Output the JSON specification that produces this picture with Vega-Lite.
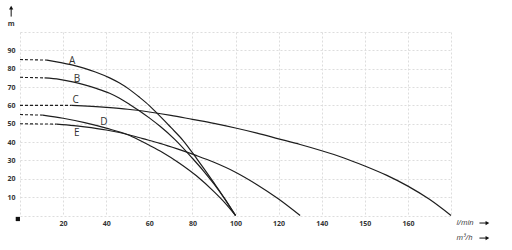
{
  "$schema": "https://vega.github.io/schema/vega-lite/v6.json",
  "width": 431,
  "height": 183.5,
  "autosize": {"type": "none"},
  "padding": {"left": 20, "top": 32, "right": 61, "bottom": 34.5},
  "background": "white",
  "config": {"view": {"stroke": null}, "axis": {"labelOverlap": false}},
  "datasets": {
    "curves": [
      {"c": "A", "s": "d", "x": 0, "y": 85}, {"c": "A", "s": "d", "x": 12.5, "y": 84.7},
      {"c": "A", "s": "s", "x": 12.5, "y": 84.7}, {"c": "A", "s": "s", "x": 18.3, "y": 83.4}, {"c": "A", "s": "s", "x": 25, "y": 81.8}, {"c": "A", "s": "s", "x": 30, "y": 80.2}, {"c": "A", "s": "s", "x": 35, "y": 78.2}, {"c": "A", "s": "s", "x": 41.6, "y": 75}, {"c": "A", "s": "s", "x": 46, "y": 72.3}, {"c": "A", "s": "s", "x": 50.9, "y": 68.6}, {"c": "A", "s": "s", "x": 55.5, "y": 64.4}, {"c": "A", "s": "s", "x": 60, "y": 59.9}, {"c": "A", "s": "s", "x": 63.2, "y": 56.2}, {"c": "A", "s": "s", "x": 67, "y": 51.7}, {"c": "A", "s": "s", "x": 70, "y": 48}, {"c": "A", "s": "s", "x": 75.6, "y": 41}, {"c": "A", "s": "s", "x": 82, "y": 31}, {"c": "A", "s": "s", "x": 90, "y": 17.8}, {"c": "A", "s": "s", "x": 95, "y": 9.2}, {"c": "A", "s": "s", "x": 100, "y": 0},
      {"c": "B", "s": "d", "x": 0, "y": 75.3}, {"c": "B", "s": "d", "x": 11.4, "y": 75},
      {"c": "B", "s": "s", "x": 11.4, "y": 75}, {"c": "B", "s": "s", "x": 18.3, "y": 74.2}, {"c": "B", "s": "s", "x": 25, "y": 72.7}, {"c": "B", "s": "s", "x": 30, "y": 71.2}, {"c": "B", "s": "s", "x": 35, "y": 69.4}, {"c": "B", "s": "s", "x": 41.6, "y": 66.6}, {"c": "B", "s": "s", "x": 46, "y": 64}, {"c": "B", "s": "s", "x": 50.9, "y": 60.5}, {"c": "B", "s": "s", "x": 55.5, "y": 57}, {"c": "B", "s": "s", "x": 60, "y": 53.2}, {"c": "B", "s": "s", "x": 65, "y": 48.6}, {"c": "B", "s": "s", "x": 71.8, "y": 41.5}, {"c": "B", "s": "s", "x": 80, "y": 31.2}, {"c": "B", "s": "s", "x": 85, "y": 24.5}, {"c": "B", "s": "s", "x": 90, "y": 17.2}, {"c": "B", "s": "s", "x": 95, "y": 9}, {"c": "B", "s": "s", "x": 100, "y": 0},
      {"c": "C", "s": "d", "x": 0, "y": 60}, {"c": "C", "s": "d", "x": 24, "y": 60},
      {"c": "C", "s": "s", "x": 24, "y": 60}, {"c": "C", "s": "s", "x": 40, "y": 58.9}, {"c": "C", "s": "s", "x": 50, "y": 57.9}, {"c": "C", "s": "s", "x": 60, "y": 56.4}, {"c": "C", "s": "s", "x": 70, "y": 54.6}, {"c": "C", "s": "s", "x": 80, "y": 52.4}, {"c": "C", "s": "s", "x": 90, "y": 50.2}, {"c": "C", "s": "s", "x": 100, "y": 47.7}, {"c": "C", "s": "s", "x": 110, "y": 44.9}, {"c": "C", "s": "s", "x": 120, "y": 41.8}, {"c": "C", "s": "s", "x": 130, "y": 38.7}, {"c": "C", "s": "s", "x": 140, "y": 35.3}, {"c": "C", "s": "s", "x": 150, "y": 31.5}, {"c": "C", "s": "s", "x": 160, "y": 27}, {"c": "C", "s": "s", "x": 170, "y": 22}, {"c": "C", "s": "s", "x": 180, "y": 16}, {"c": "C", "s": "s", "x": 190, "y": 8.8}, {"c": "C", "s": "s", "x": 200, "y": 0},
      {"c": "D", "s": "d", "x": 0, "y": 55}, {"c": "D", "s": "d", "x": 10.5, "y": 54.7},
      {"c": "D", "s": "s", "x": 10.5, "y": 54.7}, {"c": "D", "s": "s", "x": 20, "y": 53}, {"c": "D", "s": "s", "x": 30, "y": 50.6}, {"c": "D", "s": "s", "x": 40, "y": 47.6}, {"c": "D", "s": "s", "x": 50, "y": 44}, {"c": "D", "s": "s", "x": 55, "y": 41.3}, {"c": "D", "s": "s", "x": 60, "y": 38.3}, {"c": "D", "s": "s", "x": 66, "y": 34.5}, {"c": "D", "s": "s", "x": 74, "y": 28.5}, {"c": "D", "s": "s", "x": 82, "y": 21.5}, {"c": "D", "s": "s", "x": 90, "y": 13}, {"c": "D", "s": "s", "x": 95, "y": 7}, {"c": "D", "s": "s", "x": 100, "y": 0},
      {"c": "E", "s": "d", "x": 0, "y": 50}, {"c": "E", "s": "d", "x": 17, "y": 49.8},
      {"c": "E", "s": "s", "x": 17, "y": 49.8}, {"c": "E", "s": "s", "x": 25, "y": 49}, {"c": "E", "s": "s", "x": 30, "y": 48.3}, {"c": "E", "s": "s", "x": 40, "y": 46.6}, {"c": "E", "s": "s", "x": 49.5, "y": 44.3}, {"c": "E", "s": "s", "x": 57, "y": 41.9}, {"c": "E", "s": "s", "x": 65, "y": 39.3}, {"c": "E", "s": "s", "x": 73, "y": 36.3}, {"c": "E", "s": "s", "x": 82, "y": 32.6}, {"c": "E", "s": "s", "x": 90, "y": 29}, {"c": "E", "s": "s", "x": 100, "y": 23.6}, {"c": "E", "s": "s", "x": 110, "y": 16.8}, {"c": "E", "s": "s", "x": 120, "y": 9}, {"c": "E", "s": "s", "x": 130, "y": 0}
    ],
    "labels": [
      {"t": "A", "x": 24.2, "y": 84.2},
      {"t": "B", "x": 26.4, "y": 74.2},
      {"t": "C", "x": 25.8, "y": 62.9},
      {"t": "D", "x": 38.9, "y": 51.1},
      {"t": "E", "x": 26.4, "y": 45.1}
    ],
    "units": [
      {"t": "l/min", "x": 202.5, "y": -4.1},
      {"t": "m³/h", "x": 202.5, "y": -12.3}
    ],
    "shafts": [
      {"x": 213.2, "x2": 216.5, "y": -4.1, "y2": -4.1},
      {"x": 213.2, "x2": 216.5, "y": -12.3, "y2": -12.3},
      {"x": -4.1, "x2": -4.1, "y": 108.4, "y2": 112.5}
    ],
    "heads": [
      {"x": 216.9, "y": -4.1, "sh": "triangle-right"},
      {"x": 216.9, "y": -12.3, "sh": "triangle-right"},
      {"x": -4.1, "y": 113.3, "sh": "triangle-up"},
      {"x": -1, "y": -1.9, "sh": "square"}
    ],
    "ytitle": [{"t": "m", "x": -4.1, "y": 104.4}]
  },
  "layer": [
    {
      "data": {"name": "curves"},
      "transform": [{"filter": "datum.s == 's'"}],
      "mark": {"type": "line", "color": "#1e1e1e", "strokeWidth": 1.2, "interpolate": "monotone"},
      "encoding": {
        "x": {
          "field": "x", "type": "quantitative",
          "scale": {"domain": [0, 200], "nice": false, "zero": false},
          "axis": {
            "title": null, "values": [0, 20, 40, 60, 80, 100, 120, 140, 160, 180, 200], "tickCount": 11,
            "labelExpr": "datum.value == 0 || datum.value == 200 ? '' : datum.value == 160 ? '150' : datum.value == 180 ? '160' : toString(datum.value)",
            "domain": false, "ticks": false, "grid": true, "gridColor": "#dddddd", "gridDash": [2, 2], "gridWidth": 1,
            "labelFont": "Open Sans", "labelFontSize": 7, "labelFontWeight": "bold", "labelColor": "#333333", "labelPadding": 4, "labelFlush": false, "labelOverlap": false
          }
        },
        "y": {
          "field": "y", "type": "quantitative",
          "scale": {"domain": [0, 100], "nice": false},
          "axis": {
            "title": null, "values": [0, 10, 20, 30, 40, 50, 60, 70, 80, 90, 100], "tickCount": 11,
            "labelExpr": "datum.value == 0 || datum.value == 100 ? '' : toString(datum.value)",
            "domain": false, "ticks": false, "grid": true, "gridColor": "#dddddd", "gridDash": [2, 2], "gridWidth": 1,
            "labelFont": "Open Sans", "labelFontSize": 7, "labelFontWeight": "bold", "labelColor": "#333333", "labelPadding": 5, "labelOverlap": false, "labelFlush": false
          }
        },
        "detail": {"field": "c", "type": "nominal"}
      }
    },
    {
      "data": {"name": "curves"},
      "transform": [{"filter": "datum.s == 'd'"}],
      "mark": {"type": "line", "color": "#1e1e1e", "strokeWidth": 1.1, "strokeDash": [3, 2]},
      "encoding": {
        "x": {"field": "x", "type": "quantitative"},
        "y": {"field": "y", "type": "quantitative"},
        "detail": {"field": "c", "type": "nominal"}
      }
    },
    {
      "data": {"name": "labels"},
      "mark": {"type": "text", "font": "Open Sans", "fontSize": 10, "color": "#333333", "align": "center", "baseline": "middle"},
      "encoding": {
        "x": {"field": "x", "type": "quantitative"},
        "y": {"field": "y", "type": "quantitative"},
        "text": {"field": "t", "type": "nominal"}
      }
    },
    {
      "data": {"name": "units"},
      "mark": {"type": "text", "font": "Open Sans", "fontSize": 7.5, "fontStyle": "italic", "color": "#333333", "align": "left", "baseline": "middle"},
      "encoding": {
        "x": {"field": "x", "type": "quantitative"},
        "y": {"field": "y", "type": "quantitative"},
        "text": {"field": "t", "type": "nominal"}
      }
    },
    {
      "data": {"name": "ytitle"},
      "mark": {"type": "text", "font": "Open Sans", "fontSize": 7, "fontWeight": "bold", "color": "#333333", "align": "center", "baseline": "middle"},
      "encoding": {
        "x": {"field": "x", "type": "quantitative"},
        "y": {"field": "y", "type": "quantitative"},
        "text": {"field": "t", "type": "nominal"}
      }
    },
    {
      "data": {"name": "shafts"},
      "mark": {"type": "rule", "color": "#111111", "strokeWidth": 1},
      "encoding": {
        "x": {"field": "x", "type": "quantitative"},
        "x2": {"field": "x2"},
        "y": {"field": "y", "type": "quantitative"},
        "y2": {"field": "y2"}
      }
    },
    {
      "data": {"name": "heads"},
      "mark": {"type": "point", "filled": true, "color": "#111111", "size": 18, "opacity": 1},
      "encoding": {
        "x": {"field": "x", "type": "quantitative"},
        "y": {"field": "y", "type": "quantitative"},
        "shape": {"field": "sh", "type": "nominal", "scale": null}
      }
    }
  ]
}
